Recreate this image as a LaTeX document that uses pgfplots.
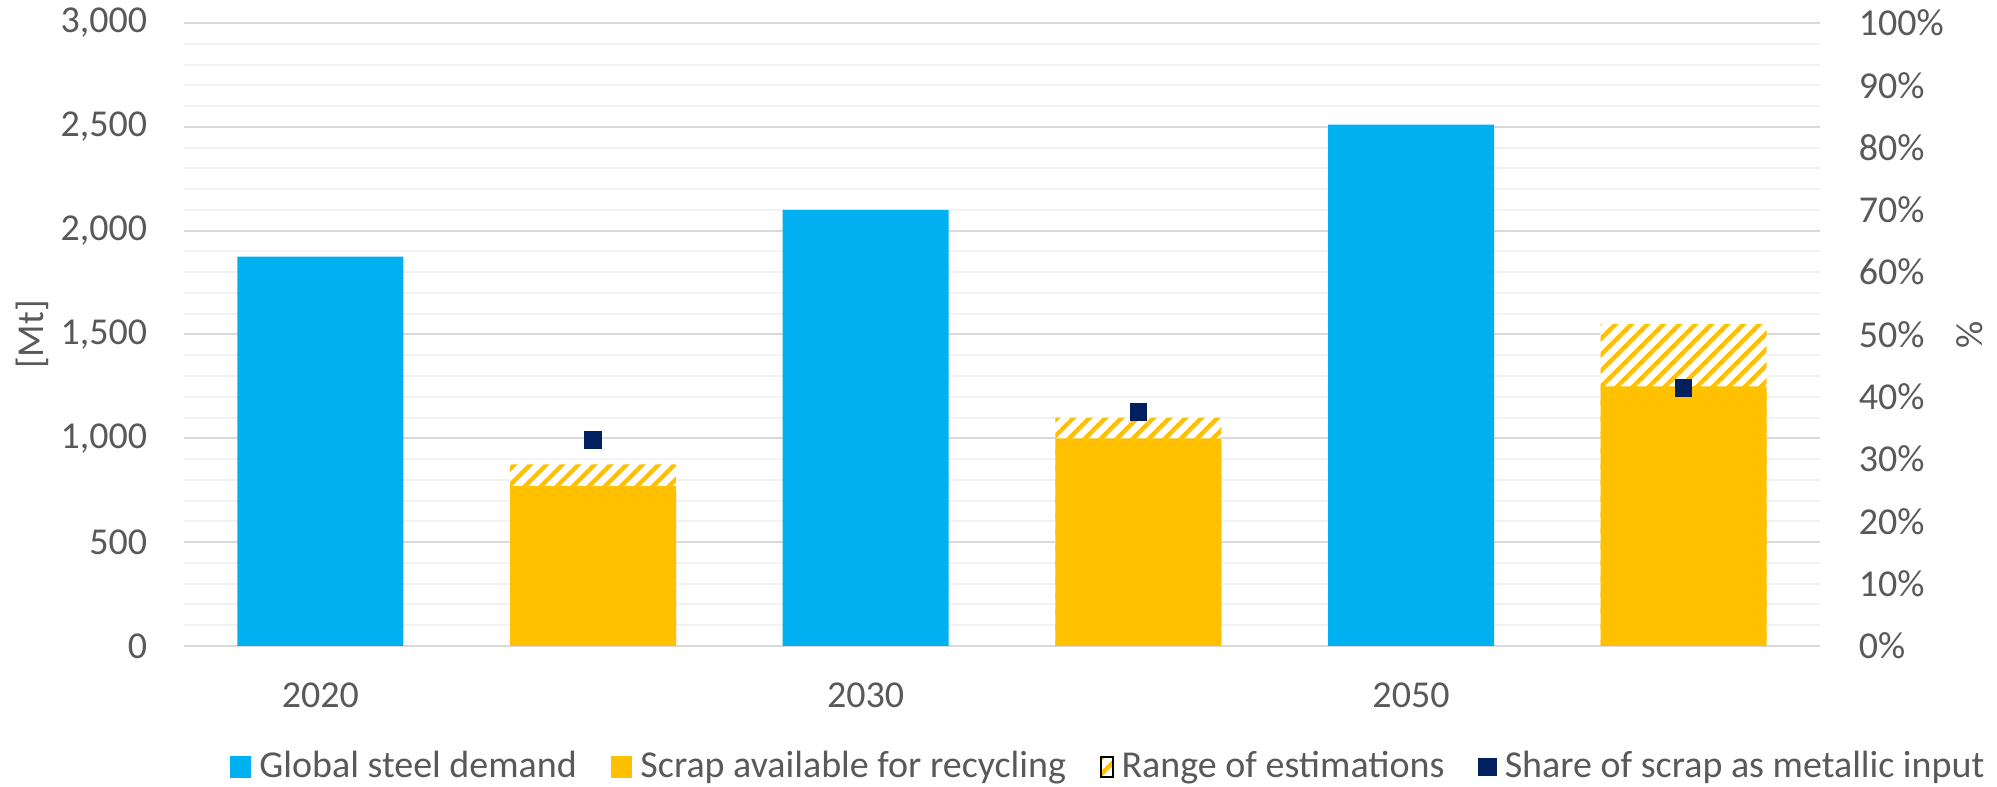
\documentclass[border=0pt]{standalone}
\usepackage{fontspec}
\setmainfont{Carlito}
\usepackage{pgfplots}
\pgfplotsset{compat=1.18}
\usetikzlibrary{patterns.meta}
\definecolor{cblue}{HTML}{00B0F0}
\definecolor{cyellow}{HTML}{FFC000}
\definecolor{cnavy}{HTML}{002060}
\definecolor{ctext}{HTML}{595959}
\definecolor{gmaj}{HTML}{D9D9D9}
\definecolor{gmin}{HTML}{F2F2F2}
\tikzset{hatchfill/.style={preaction={fill=white}, pattern={Lines[angle=45,distance=2.83pt,line width=1.1pt]}, pattern color=cyellow}}
\begin{document}
\begin{tikzpicture}[font=\fontsize{9.5}{11.4}\selectfont, text=ctext]
\begin{axis}[
  scale only axis, width=409pt, height=155.75pt,
  xmin=-0.5, xmax=5.5, ymin=0, ymax=3000,
  axis line style={draw=none},
  ytick={0,500,...,3000}, minor y tick num=4,
  ymajorgrids, yminorgrids,
  major grid style={gmaj, line width=0.5pt},
  minor grid style={gmin, line width=0.5pt},
  major tick length=0pt, minor tick length=0pt,
  xtick={0,2,4}, xticklabels={2020,2030,2050},
  xticklabel style={anchor=north, inner sep=0pt, yshift=-9pt},
  yticklabel style={anchor=east, inner sep=0pt, xshift=-9pt},
  /pgf/number format/1000 sep={,},
  /pgf/number format/assume math mode=true,
  ylabel={[Mt]},
  ylabel style={at={(axis description cs:-0.0929,0.5)}, anchor=center},
  legend style={at={(axis description cs:0.5667,-0.1942)}, anchor=center, draw=none, fill=none,
    legend columns=4, /tikz/every even column/.append style={column sep=6.5pt}},
  legend cell align=left,
]
\addplot[ybar, bar width=41.5pt, bar shift=0pt, draw=none, hatchfill, forget plot]
  coordinates {(1,875) (3,1100) (5,1550)};
\addplot[ybar, bar width=41.5pt, bar shift=0pt, draw=none, fill=cyellow, forget plot]
  coordinates {(1,770) (3,1000) (5,1250)};
\addplot[ybar, bar width=41.5pt, bar shift=0pt, draw=none, fill=cblue, forget plot]
  coordinates {(0,1875) (2,2100) (4,2510)};
\addlegendimage{legend image code/.code={\fill[cblue] (0pt,-2.5pt) rectangle (5pt,2.5pt);}}
\addlegendentry{Global steel demand}
\addlegendimage{legend image code/.code={\fill[cyellow] (0pt,-2.5pt) rectangle (5pt,2.5pt);}}
\addlegendentry{Scrap available for recycling}
\addlegendimage{legend image code/.code={\path[hatchfill] (0pt,-2.5pt) rectangle (3pt,2.5pt);}}
\addlegendentry{Range of estimations}
\addlegendimage{legend image code/.code={\fill[cnavy] (0pt,-2.1pt) rectangle (4.2pt,2.1pt);}}
\addlegendentry{Share of scrap as metallic input}
\end{axis}
\begin{axis}[
  scale only axis, width=409pt, height=155.75pt,
  xmin=-0.5, xmax=5.5, ymin=0, ymax=100,
  axis y line*=right, axis x line=none,
  axis line style={draw=none},
  xtick=\empty,
  ytick={0,10,...,100},
  major tick length=0pt,
  /pgf/number format/assume math mode=true,
  yticklabel={\pgfmathprintnumber{\tick}\%},
  yticklabel style={anchor=west, inner sep=0pt, xshift=9.5pt},
  ylabel={\%},
  ylabel style={at={(axis description cs:1.0917,0.5)}, anchor=center},
]
\addplot[only marks, mark=square*, mark size=2pt, color=cnavy]
  coordinates {(1,33.1) (3,37.6) (5,41.4)};
\end{axis}
\pgfresetboundingbox
\path (-46pt,-35.25pt) rectangle (453.25pt,161.5pt);
\end{tikzpicture}
\end{document}
